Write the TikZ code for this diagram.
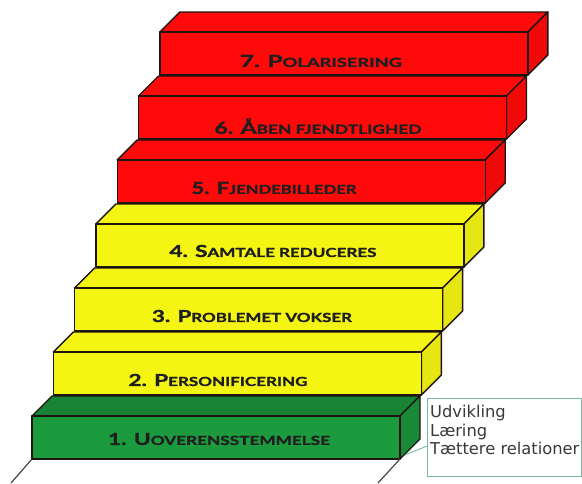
\documentclass[tikz,border=0pt]{standalone}
\usepackage{fontspec}
\usepackage{graphicx}
\newfontfamily\stepfont[BoldFeatures={FakeBold=1.3}]{Lato}
\newfontfamily\boxfont{DejaVu Sans}
\definecolor{redf}{HTML}{FF0A0A}
\definecolor{yelf}{HTML}{F5F514}
\definecolor{grnf}{HTML}{1C9A3E}
\definecolor{edgec}{HTML}{1E1410}
\definecolor{boxc}{HTML}{7FB5A5}
\newsavebox\stbox
\newcommand\stp[3]{\sbox\stbox{\stepfont\bfseries\fontsize{16.5}{18}\selectfont #2\fontsize{12.5}{14}\selectfont #3}\pgfmathsetmacro\stratio{#1/\the\wd\stbox}\scalebox{\stratio}[1]{\usebox\stbox}}
\tikzset{
  stepedge/.style={draw=edgec, line width=1.4pt, line join=round},
  steplabel/.style={inner sep=0pt, text=black!88, anchor=center},
  legline/.style={draw=edgec!80, line width=1.2pt},
  boxline/.style={draw=boxc, line width=0.9pt}
}
\begin{document}
\begin{tikzpicture}[x=1pt, y=-1pt]
\useasboundingbox (0,0) rectangle (582,483);
% steps, farthest first
\foreach \i/\fc/\tc/\sc in {6/redf/redf/redf!94!black,5/redf/redf/redf!94!black,4/redf/redf/redf!94!black,3/yelf/yelf/yelf!94!black,2/yelf/yelf/yelf!94!black,1/yelf/yelf/yelf!94!black,0/grnf/grnf!85!black/grnf!88!black} {
  \pgfmathsetmacro\L{32+21.3*\i}
  \pgfmathsetmacro\R{\L+368}
  \pgfmathsetmacro\B{459-64*\i}
  \pgfmathsetmacro\T{\B-43}
  \filldraw[stepedge, fill=\tc] (\L,\T) -- (\L+20,\T-20) -- (\R+20,\T-20) -- (\R,\T) -- cycle;
  \filldraw[stepedge, fill=\sc] (\R,\T) -- (\R+20,\T-20) -- (\R+20,\B-20) -- (\R,\B) -- cycle;
  \filldraw[stepedge, fill=\fc] (\L,\T) rectangle (\R,\B);
}
% labels
\node[steplabel] (s7) at (321,61) {\stp{162}{7. P}{OLARISERING}};
\node[steplabel] (s6) at (318,126) {\stp{207}{6. Å}{BEN FJENDTLIGHED}};
\node[steplabel] (s5) at (274,188) {\stp{165}{5. F}{JENDEBILLEDER}};
\node[steplabel] (s4) at (273,251) {\stp{207}{4. S}{AMTALE REDUCERES}};
\node[steplabel] (s3) at (252,316) {\stp{200}{3. P}{ROBLEMET VOKSER}};
\node[steplabel] (s2) at (218,380) {\stp{179}{2. P}{ERSONIFICERING}};
\node[steplabel] (s1) at (219,439) {\stp{222}{1. U}{OVERENSSTEMMELSE}};
% legs
\coordinate (la) at (32,459);
\coordinate (lb) at (11,483);
\coordinate (ra) at (400,459);
\coordinate (rb) at (378,483);
\draw[legline] (la) -- (lb);
\draw[legline] (ra) -- (rb);
% callout box
\node[boxline, anchor=north west, minimum width=154pt, minimum height=78pt, inner sep=0pt] (box) at (427,398) {};
\node[anchor=north west, align=left, inner sep=0pt, text=black!78, font=\boxfont\fontsize{16.3}{18.5}\selectfont] (boxtext) at (430,405) {Udvikling\\Læring\\Tættere relationer};
\coordinate (ca) at (427,446);
\coordinate (cp) at (405,455);
\draw[boxline] (ca) -- (cp);
\end{tikzpicture}
\end{document}
